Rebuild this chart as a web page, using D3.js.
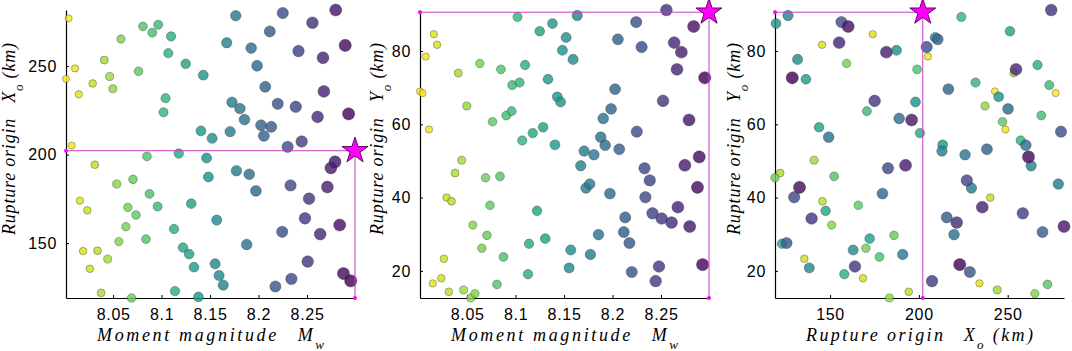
<!DOCTYPE html>
<html>
<head>
<meta charset="utf-8">
<title>Rupture origin vs magnitude</title>
<script src="https://cdn.jsdelivr.net/npm/d3@7"></script>
<style>
    body { margin: 0; background: #fff; }
    .tick text { font-family: "Liberation Sans", Arial, sans-serif; font-size: 16px; letter-spacing: 0.7px; fill: #000; }
    .ttl { font-family: "Liberation Serif", serif; font-style: italic; font-size: 18px; fill: #000; }
</style>
</head>
<body>
<script>
    // samples, same order in every array
    var mw = [8.0014, 8.0041, 8.0073, 8.0107, 8.0146, 8.0157, 8.0190, 8.0234, 8.0260, 8.0289,
        8.0311, 8.0339, 8.0376, 8.0409, 8.0444, 8.0464, 8.0497, 8.0537, 8.0559, 8.0581,
        8.0631, 8.0652, 8.0690, 8.0705, 8.0736, 8.0762, 8.0808, 8.0839, 8.0849, 8.0875,
        8.0904, 8.0959, 8.0965, 8.1020, 8.1041, 8.1069, 8.1098, 8.1128, 8.1138, 8.1177,
        8.1221, 8.1249, 8.1284, 8.1306, 8.1334, 8.1380, 8.1406, 8.1430, 8.1464, 8.1483,
        8.1521, 8.1552, 8.1569, 8.1593, 8.1636, 8.1672, 8.1707, 8.1726, 8.1765, 8.1772,
        8.1808, 8.1855, 8.1878, 8.1904, 8.1924, 8.1973, 8.1985, 8.2026, 8.2055, 8.2069,
        8.2116, 8.2131, 8.2174, 8.2198, 8.2244, 8.2250, 8.2300, 8.2330, 8.2339, 8.2384,
        8.2412, 8.2445, 8.2479, 8.2507, 8.2521, 8.2556, 8.2609, 8.2636, 8.2665, 8.2674,
        8.2710, 8.2746, 8.2789, 8.2796, 8.2837, 8.2876, 8.2894, 8.2929, 8.2951];
    var xo = [242.8, 277.0, 205.1, 248.7, 234.1, 174.0, 145.5, 168.5, 135.5, 240.2,
        194.3, 145.7, 121.9, 253.4, 141.0, 244.1, 237.2, 183.4, 150.9, 265.3,
        159.3, 170.2, 119.0, 186.0, 165.9, 247.1, 272.4, 152.3, 199.0, 177.8,
        268.9, 170.7, 273.4, 223.9, 231.9, 257.3, 266.8, 158.0, 122.9, 200.6,
        147.5, 251.3, 143.8, 172.3, 136.4, 119.6, 213.4, 244.9, 198.1, 187.4,
        209.2, 138.3, 163.0, 131.7, 126.3, 263.2, 213.0, 229.6, 278.5, 190.9,
        226.0, 219.8, 149.2, 188.9, 260.2, 179.5, 250.2, 216.6, 210.6, 238.3,
        269.6, 215.7, 125.5, 228.7, 156.4, 280.0, 204.4, 182.6, 129.8, 227.0,
        258.5, 207.4, 164.0, 139.6, 175.1, 274.5, 221.3, 155.1, 254.7, 235.7,
        181.7, 192.5, 195.9, 281.7, 160.2, 132.8, 261.7, 223.0, 128.7];
    var yo = [69.0, 68.5, 78.5, 58.6, 16.6, 84.6, 81.7, 18.0, 23.3, 40.0,
        14.3, 39.0, 46.7, 74.0, 50.2, 14.8, 65.0, 12.6, 32.5, 13.8,
        76.6, 26.2, 45.4, 29.7, 37.9, 60.7, 16.3, 45.8, 75.0, 23.8,
        62.4, 63.6, 70.7, 89.3, 71.4, 55.6, 76.2, 19.1, 27.4, 57.6,
        36.4, 85.4, 59.2, 28.8, 72.3, 87.5, 54.4, 67.5, 66.1, 80.2,
        83.7, 20.8, 25.7, 77.7, 89.7, 48.7, 52.7, 42.6, 43.7, 24.5,
        51.7, 29.9, 56.5, 61.6, 54.3, 41.1, 64.2, 69.6, 83.2, 53.2,
        30.6, 34.6, 27.6, 19.7, 87.9, 58.0, 81.1, 48.0, 40.1, 44.7,
        35.7, 17.2, 21.2, 34.3, 66.4, 91.2, 33.2, 82.3, 75.0, 37.4,
        79.7, 48.8, 61.2, 32.1, 86.7, 42.8, 51.1, 21.7, 72.7];
    // the marked (true) source
    var starMw = 8.2995, starXo = 202.2, starYo = 90.6;

    var mwTicks = [8.05, 8.1, 8.15, 8.2, 8.25];
    var xoTicks = [150, 200, 250];
    var yoTicks = [20, 40, 60, 80];

    var width = 1072, height = 351;
    var plotTop = 10, plotBottom = 298, pw = 289;

    var svg = d3.select("body").append("svg")
        .attr("width", width)
        .attr("height", height);

    var data = mw.map(function (m, i) { return { mw: m, xo: xo[i], yo: yo[i] }; });
    var star = { mw: starMw, xo: starXo, yo: starYo };

    var ext = {
        mw: d3.extent(mw.concat([starMw])),
        xo: d3.extent(xo.concat([starXo])),
        yo: d3.extent(yo.concat([starYo]))
    };
    var ticks = { mw: mwTicks, xo: xoTicks, yo: yoTicks };
    var fmt = { mw: d3.format(""), xo: d3.format("d"), yo: d3.format("d") };

    var color = d3.scaleSequential(function (t) { return d3.interpolateViridis(1 - t); })
        .domain(ext.mw);
    var area = d3.scaleLinear().domain(ext.mw).range([12.5, 38]);

    var titles = {
        mw: ["Moment magnitude\u2002 M", "w", ""],
        xo: ["Rupture origin\u2002 X", "o", " (km)"],
        yo: ["Rupture origin\u2002 Y", "o", " (km)"]
    };

    var panels = [
        { left: 66, xk: "mw", yk: "xo", ylx: 9 },
        { left: 420, xk: "mw", yk: "yo", ylx: 377 },
        { left: 775, xk: "xo", yk: "yo", ylx: 734 }
    ];

    function title(g, parts, len) {
        var t = g.append("text").attr("class", "ttl")
            .attr("text-anchor", "middle")
            .attr("textLength", len)
            .attr("lengthAdjust", "spacing");
        t.append("tspan").text(parts[0]);
        t.append("tspan").attr("baseline-shift", "sub").attr("font-size", 13).text(parts[1]);
        if (parts[2]) t.append("tspan").text(parts[2]);
        return t;
    }

    panels.forEach(function (p) {
        var x = d3.scaleLinear().domain(ext[p.xk]).range([p.left, p.left + pw]);
        var y = d3.scaleLinear().domain(ext[p.yk]).range([plotBottom, plotTop]);
        var g = svg.append("g");

        g.append("g")
            .attr("transform", "translate(0," + plotBottom + ")")
            .call(d3.axisBottom(x).tickValues(ticks[p.xk]).tickFormat(fmt[p.xk])
                .tickSizeInner(-3).tickSizeOuter(0).tickPadding(11))
            .call(function (a) { a.select(".domain").attr("stroke-width", 1.2); });
        g.append("g")
            .attr("transform", "translate(" + p.left + ",0)")
            .call(d3.axisLeft(y).tickValues(ticks[p.yk]).tickFormat(fmt[p.yk])
                .tickSizeInner(-3).tickSizeOuter(0).tickPadding(9))
            .call(function (a) { a.select(".domain").attr("stroke-width", 1.2); });

        g.selectAll("circle.pt")
            .data(data)
            .enter()
            .append("circle")
            .attr("class", "pt")
            .attr("cx", function (d) { return x(d[p.xk]); })
            .attr("cy", function (d) { return y(d[p.yk]); })
            .attr("r", function (d) { return Math.sqrt(area(d.mw)); })
            .attr("fill", function (d) { return color(d.mw); })
            .attr("fill-opacity", 0.82)
            .attr("stroke", "#2a2a2a")
            .attr("stroke-opacity", 0.6)
            .attr("stroke-width", 0.6);

        // guide lines from the axes to the marked source
        var sx = x(star[p.xk]), sy = y(star[p.yk]);
        g.append("path")
            .attr("d", "M" + p.left + "," + sy + "H" + sx + "V" + plotBottom)
            .attr("fill", "none")
            .attr("stroke", "#c53cc5")
            .attr("stroke-width", 1);
        g.selectAll("circle.end")
            .data([[p.left, sy], [sx, plotBottom]])
            .enter()
            .append("circle")
            .attr("class", "end")
            .attr("cx", function (d) { return d[0]; })
            .attr("cy", function (d) { return d[1]; })
            .attr("r", 2)
            .attr("fill", "#ff00ff");
        g.append("path")
            .attr("d", d3.symbol().type(d3.symbolStar).size(210)())
            .attr("transform", "translate(" + sx + "," + sy + ")")
            .attr("fill", "#ff00ff")
            .attr("stroke", "#4d004d")
            .attr("stroke-width", 0.9);

        title(g, titles[p.xk], 227)
            .attr("x", p.left + pw / 2)
            .attr("y", 341);
        title(g, titles[p.yk], 192)
            .attr("transform", "translate(" + (p.ylx + 6) + ",139) rotate(-90)");
    });
</script>
</body>
</html>
